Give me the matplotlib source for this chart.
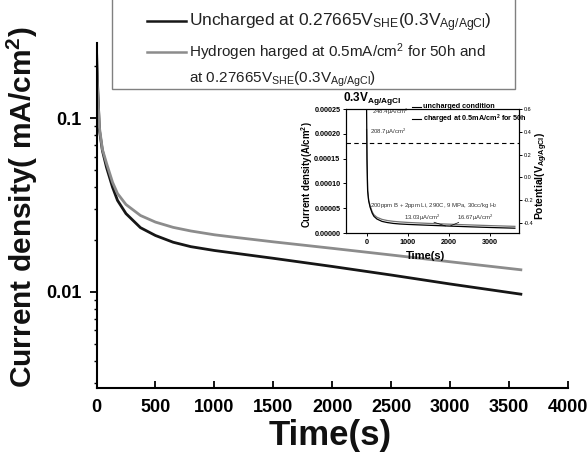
import numpy as np
import matplotlib
matplotlib.use('Agg')
import matplotlib.pyplot as plt
from matplotlib import ticker
from matplotlib.lines import Line2D
from matplotlib.patches import Rectangle

plt.rcParams['font.family'] = ['Liberation Sans', 'DejaVu Sans']
plt.rcParams['mathtext.fontset'] = 'custom'
plt.rcParams['mathtext.rm'] = 'Liberation Sans'
plt.rcParams['mathtext.bf'] = 'Liberation Sans:bold'
plt.rcParams['mathtext.default'] = 'regular'

# current density, mA/cm2
time_s = [0, 10, 25, 50, 85, 136, 178, 250, 373, 500, 650, 800, 1000, 1200, 1500, 2000, 2500, 3000, 3600]
uncharged = [0.2484, 0.15, 0.085, 0.065, 0.052, 0.040, 0.0336, 0.0282, 0.0234, 0.0211, 0.0193, 0.0182,
             0.0173, 0.0166, 0.0156, 0.0140, 0.0125, 0.0111, 0.0097]
charged = [0.2087, 0.14, 0.088, 0.066, 0.0549, 0.0427, 0.0368, 0.0318, 0.0275, 0.0252, 0.0235, 0.0224,
           0.0213, 0.0205, 0.0194, 0.0178, 0.0163, 0.0149, 0.0134]
potential_v = 0.3  # applied potential, V Ag/AgCl

xticks = list(range(0, 4001, 500))
inset_xticks = [0, 1000, 2000, 3000]
inset_yticks = [0, 0.00005, 0.0001, 0.00015, 0.0002, 0.00025]
pot_ticks = [-0.4, -0.2, 0.0, 0.2, 0.4, 0.6]

W, H = 588, 459
fig = plt.figure(figsize=(5.88, 4.59), dpi=100)

def fx(x): return x / W
def fy(y): return 1 - y / H

BLK = '#161616'
GRY = '#8c8c8c'

# ---- main axes
ax = fig.add_axes([fx(96.5), fy(388), (568 - 96.5) / W, (388 - 43) / H])
ax.plot(time_s, uncharged, color=BLK, lw=2.0)
ax.plot(time_s, charged, color=GRY, lw=2.0)
ax.set_yscale('log')
ax.set_xlim(0, 4000)
ax.set_ylim(0.0028, 0.27)
ax.spines['top'].set_visible(False)
ax.spines['right'].set_visible(False)
for s in ('left', 'bottom'):
    ax.spines[s].set_linewidth(1.5)
ax.set_xticks(xticks)
ax.yaxis.set_major_locator(ticker.FixedLocator([0.01, 0.1]))
ax.yaxis.set_major_formatter(ticker.FuncFormatter(lambda v, p: f'{v:g}'))
ax.yaxis.set_minor_locator(ticker.LogLocator(subs=range(2, 10)))
ax.yaxis.set_minor_formatter(ticker.NullFormatter())
ax.tick_params(axis='x', direction='in', length=5, width=1.3, labelsize=13, pad=8)
ax.tick_params(axis='y', which='major', direction='out', length=5, width=1.3, labelsize=13, pad=6)
ax.tick_params(axis='y', which='minor', direction='out', length=2.5, width=1.0)
for lab in ax.get_xticklabels() + ax.get_yticklabels():
    lab.set_fontweight('bold')

fig.text(fx(32), fy(207), 'Current density( mA/cm$^2$)', rotation=90, rotation_mode='anchor',
         ha='center', va='baseline', fontsize=21.5, fontweight='bold', color='#111')
fig.text(fx(330), fy(435), 'Time(s)', ha='center', va='center', fontsize=25, fontweight='bold', color='#111')

# ---- legend box (top cut off by the figure edge)
fig.add_artist(Rectangle((fx(112), fy(89)), (515 - 112) / W, 110 / H, transform=fig.transFigure,
                         facecolor='white', edgecolor='0.5', lw=1.0, zorder=5))
fig.add_artist(Line2D([fx(147), fx(186)], [fy(21), fy(21)], color=BLK, lw=1.8, zorder=6))
fig.add_artist(Line2D([fx(147), fx(186)], [fy(52), fy(52)], color=GRY, lw=1.8, zorder=6))
fig.text(fx(189), fy(26), 'Uncharged at 0.27665V$_{SHE}$(0.3V$_{Ag/AgCl}$)', fontsize=12.5,
         va='baseline', color='#222', zorder=7)
fig.text(fx(189), fy(57), 'Hydrogen harged at 0.5mA/cm$^2$ for 50h and', fontsize=11,
         va='baseline', color='#222', zorder=7)
fig.text(fx(189), fy(83), 'at 0.27665V$_{SHE}$(0.3V$_{Ag/AgCl}$)', fontsize=11,
         va='baseline', color='#222', zorder=7)

# ---- inset
ins = fig.add_axes([fx(346), fy(233), 173 / W, 124 / H])
ins.plot(time_s, [v * 1e-3 for v in charged], color='0.45', lw=0.9)
ins.plot(time_s, [v * 1e-3 for v in uncharged], color='k', lw=0.9)
ins.set_xlim(-500, 3700)
ins.set_ylim(0, 0.00025)
ins.set_xticks(inset_xticks)
ins.set_yticks(inset_yticks)
ins.yaxis.set_major_formatter(ticker.FuncFormatter(lambda v, p: f'{v:.5f}'))
ins.tick_params(labelsize=5.2, length=2.5, width=0.7, pad=1.5)
for s in ins.spines.values():
    s.set_linewidth(0.8)
for lab in ins.get_xticklabels() + ins.get_yticklabels():
    lab.set_fontweight('bold')

ins2 = ins.twinx()
ins2.set_ylim(-0.49, 0.6)
ins2.set_yticks(pot_ticks)
ins2.yaxis.set_major_formatter(ticker.FuncFormatter(lambda v, p: f'{v:.1f}'))
ins2.tick_params(labelsize=4, length=2.5, width=0.7, pad=1)
ins2.axhline(potential_v, color='k', lw=0.8, ls=(0, (4, 3)))

note = dict(fontsize=4.3, color='0.2', va='baseline')
ins.text(120, 0.00024, '248.4µA/cm$^2$', **note)
ins.text(72, 0.0002, '208.7µA/cm$^2$', **note)
ins.text(72, 0.0000524, '200ppm B + 2ppm Li, 290C, 9 MPa, 30cc/kg H$_2$', **note)
ins.text(916, 0.0000262, '13.03µA/cm$^2$', **note)
ins.text(2190, 0.0000262, '16.67µA/cm$^2$', **note)
ins.annotate('', xy=(1980, 0.0000125), xytext=(1570, 0.0000235),
             arrowprops=dict(arrowstyle='-', lw=0.5, color='k'))
ins.annotate('', xy=(1980, 0.0000125), xytext=(2300, 0.0000235),
             arrowprops=dict(arrowstyle='-', lw=0.5, color='k'))

fig.text(fx(343), fy(101), '0.3V$_{Ag/AgCl}$', fontsize=8.5, fontweight='bold', va='baseline')
fig.add_artist(Line2D([fx(412), fx(421)], [fy(107), fy(107)], color='k', lw=0.8))
fig.add_artist(Line2D([fx(412), fx(421)], [fy(119), fy(119)], color='k', lw=0.8))
fig.text(fx(423), fy(107), 'uncharged condition', fontsize=5.2, fontweight='bold', va='center')
fig.text(fx(423), fy(119), 'charged at 0.5mA/cm$^2$ for 50h', fontsize=5.2, fontweight='bold', va='center')
fig.text(fx(311), fy(175), 'Current density(A/cm$^2$)', rotation=90, rotation_mode='anchor',
         ha='center', va='baseline', fontsize=6.9, fontweight='bold')
fig.text(fx(544), fy(176), 'Potential(V$_{Ag/AgCl}$)', rotation=90, rotation_mode='anchor',
         ha='center', va='baseline', fontsize=7.5, fontweight='bold')
fig.text(fx(426), fy(256), 'Time(s)', ha='center', va='center', fontsize=8, fontweight='bold')

fig.savefig('out.png', dpi=100)
